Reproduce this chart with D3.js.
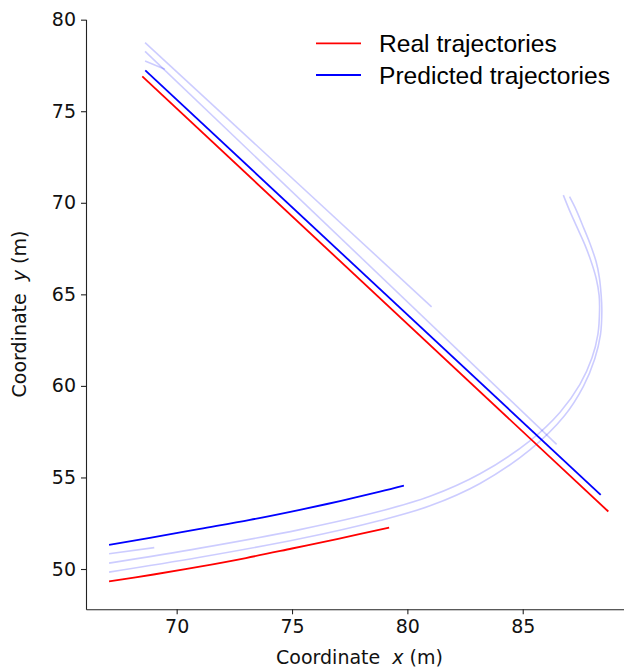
<!DOCTYPE html>
<html>
<head>
<meta charset="utf-8">
<script src="https://cdn.jsdelivr.net/npm/d3@7"></script>
<style>
  html, body { margin: 0; padding: 0; background: #fff; }
  svg { display: block; }
</style>
</head>
<body>
<svg id="chart" width="624" height="672"></svg>
<script>
// ---------- data ----------
const xTicks = [70, 75, 80, 85];
const yTicks = [50, 55, 60, 65, 70, 75, 80];
const legendLabels = ["Real trajectories", "Predicted trajectories"];

// straight trajectory (upper-left to lower-right)
const realStraightX = [68.51, 88.71];
const realStraightY = [76.90, 53.14];
const predStraightX = [68.64, 88.38];
const predStraightY = [77.23, 54.05];

// curved trajectory (lower-left)
const realCurveX = [67.07, 69.0, 71.0, 73.0, 75.0, 77.0, 79.21];
const realCurveY = [49.32, 49.70, 50.13, 50.60, 51.12, 51.65, 52.26];
const predCurveX = [67.07, 68.84, 71.01, 73.18, 75.34, 77.08, 78.81, 79.85];
const predCurveY = [51.32, 51.70, 52.19, 52.68, 53.23, 53.71, 54.22, 54.55];

// faint predicted samples
const faint1X = [68.63, 81.05];
const faint1Y = [78.75, 64.32];
const faint2X = [68.63, 86.47];
const faint2Y = [78.27, 56.81];
const faint3X = [68.63, 69.49];
const faint3Y = [77.74, 77.29];
const faint4X = [67.07, 69.03];
const faint4Y = [50.83, 51.17];
const arcInnerX = [67.07, 71.01, 75.34, 78.81, 80.98, 83.15, 85.31, 86.61, 87.48, 88.00, 88.26, 88.33, 88.31, 88.18, 87.99, 87.70, 87.41, 87.07, 86.76];
const arcInnerY = [50.32, 51.14, 52.15, 53.15, 53.97, 55.20, 57.00, 58.55, 60.08, 61.52, 62.83, 64.14, 64.96, 65.89, 66.70, 67.69, 68.51, 69.46, 70.42];
const arcOuterX = [67.07, 71.01, 75.34, 78.81, 80.98, 83.15, 85.31, 86.80, 87.63, 88.12, 88.37, 88.43, 88.40, 88.32, 88.18, 87.91, 87.64, 87.32, 87.03];
const arcOuterY = [49.83, 50.64, 51.65, 52.65, 53.45, 54.67, 56.51, 58.36, 59.98, 61.47, 62.80, 64.14, 64.96, 65.93, 66.79, 67.79, 68.63, 69.60, 70.33];

// ---------- layout ----------
const svg = d3.select("#chart");
const x = d3.scaleLinear().domain([66.07, 89.78]).range([86, 633]);
const y = d3.scaleLinear().domain([47.8, 80.02]).range([609.3, 19.3]);

const zip = (xs, ys) => xs.map((v, i) => [v, ys[i]]);
const lineStraight = d3.line().x(d => x(d[0])).y(d => y(d[1]));
const lineCurve = d3.line().x(d => x(d[0])).y(d => y(d[1])).curve(d3.curveCatmullRom.alpha(0.5));

const faintColor = "rgba(0,0,255,0.2)";
const plot = svg.append("g");

// faint samples
[[faint1X, faint1Y], [faint2X, faint2Y], [faint3X, faint3Y], [faint4X, faint4Y]].forEach(([xs, ys]) => {
  plot.append("path").attr("d", lineStraight(zip(xs, ys)))
    .attr("fill", "none").attr("stroke", faintColor).attr("stroke-width", 1.6);
});
[[arcInnerX, arcInnerY], [arcOuterX, arcOuterY]].forEach(([xs, ys]) => {
  plot.append("path").attr("d", lineCurve(zip(xs, ys)))
    .attr("fill", "none").attr("stroke", faintColor).attr("stroke-width", 1.6);
});

// real
plot.append("path").attr("d", lineStraight(zip(realStraightX, realStraightY)))
  .attr("fill", "none").attr("stroke", "#ff0000").attr("stroke-width", 1.8);
plot.append("path").attr("d", lineCurve(zip(realCurveX, realCurveY)))
  .attr("fill", "none").attr("stroke", "#ff0000").attr("stroke-width", 1.8);
// predicted
plot.append("path").attr("d", lineStraight(zip(predStraightX, predStraightY)))
  .attr("fill", "none").attr("stroke", "#0000ff").attr("stroke-width", 1.8);
plot.append("path").attr("d", lineCurve(zip(predCurveX, predCurveY)))
  .attr("fill", "none").attr("stroke", "#0000ff").attr("stroke-width", 1.8);

// ---------- axes ----------
const tickFont = "DejaVu Sans";
const xAxis = svg.append("g").attr("transform", "translate(0,609.3)")
  .call(d3.axisBottom(x).tickValues(xTicks).tickSize(5).tickPadding(5).tickSizeOuter(0));
const yAxis = svg.append("g").attr("transform", "translate(86,0)")
  .call(d3.axisLeft(y).tickValues(yTicks).tickSize(5).tickPadding(5).tickSizeOuter(0));
[xAxis, yAxis].forEach(g => {
  g.selectAll("path.domain").attr("stroke", "#222").attr("stroke-width", 1.1);
  g.selectAll(".tick line").attr("stroke", "#222").attr("stroke-width", 1.1);
  g.selectAll(".tick text").attr("font-family", tickFont).attr("font-size", 19).attr("fill", "#111");
});

// axis labels
const xl = svg.append("text").attr("x", 359.5).attr("y", 664)
  .attr("text-anchor", "middle").attr("font-family", tickFont).attr("font-size", 19).attr("fill", "#111");
xl.append("tspan").text("Coordinate\u00a0\u00a0");
xl.append("tspan").attr("font-style", "italic").text("x");
xl.append("tspan").text("\u00a0(m)");

const yl = svg.append("text").attr("transform", "translate(26,314) rotate(-90)")
  .attr("text-anchor", "middle").attr("font-family", tickFont).attr("font-size", 19).attr("fill", "#111");
yl.append("tspan").text("Coordinate\u00a0\u00a0");
yl.append("tspan").attr("font-style", "italic").text("y");
yl.append("tspan").text("\u00a0(m)");

// ---------- legend ----------
const legendColors = ["#ff0000", "#0000ff"];
const legend = svg.append("g");
legendLabels.forEach((lab, i) => {
  const ly = 43.3 + i * 31.7;
  legend.append("line").attr("x1", 316).attr("x2", 361).attr("y1", ly).attr("y2", ly)
    .attr("stroke", legendColors[i]).attr("stroke-width", 1.8);
  legend.append("text").attr("x", 379).attr("y", ly + 8.8)
    .attr("font-family", "Liberation Sans, Arial, sans-serif").attr("font-size", 24.6)
    .attr("fill", "#000").text(lab);
});
</script>
</body>
</html>
